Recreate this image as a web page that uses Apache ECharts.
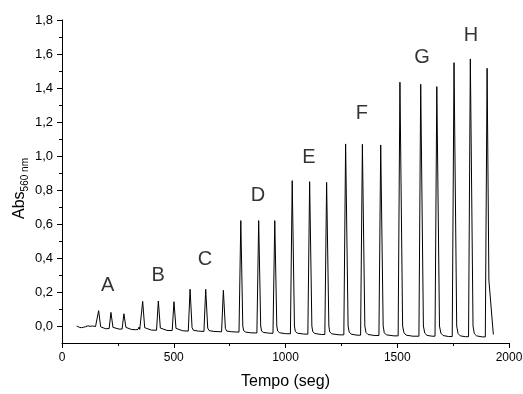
<!DOCTYPE html>
<html>
<head>
<meta charset="utf-8">
<script src="https://cdn.jsdelivr.net/npm/echarts@6/dist/echarts.min.js"></script>
<style>
  html, body { margin: 0; padding: 0; background: #fff; }
  #chart { width: 523px; height: 394px; }
</style>
</head>
<body>
<div id="chart"></div>
<script>
// Absorbance at 560 nm versus time: [tempo (s), Abs] points for each injection group.
const baseline = [[66, 0.0], [70, -0.006], [74, 0.003], [78, -0.008], [83, 0.0], [88, -0.01], [92, -0.002],
  [97, -0.007], [102, 0.004], [106, -0.004], [111, -0.003], [116, 0.001], [121, -0.006], [126, -0.002],
  [131, -0.005], [137, 0.0], [143, -0.005], [150, -0.003]];
const groupA = [[156, -0.004], [164, 0.09], [173, -0.005], [180, -0.012], [195, -0.016], [211, -0.015],
  [219, 0.08], [228, -0.008], [235, -0.015], [255, -0.018], [269, -0.018], [277, 0.072], [286, -0.008],
  [293, -0.016], [310, -0.02], [330, -0.022], [340, -0.02], [345, -0.006], [348, -0.02], [353, -0.022]];
const groupB = [[361, 0.145], [370, -0.01], [377, -0.02], [400, -0.024], [423, -0.025], [431, 0.147],
  [440, -0.012], [447, -0.022], [470, -0.026], [493, -0.027], [501, 0.143], [510, -0.014], [517, -0.025],
  [540, -0.028], [565, -0.03]];
const groupC = [[573, 0.216], [582, -0.01], [588, -0.025], [610, -0.03], [635, -0.032], [643, 0.216],
  [652, -0.012], [658, -0.027], [680, -0.032], [714, -0.034], [722, 0.21], [731, -0.014], [737, -0.03],
  [760, -0.034], [792, -0.036]];
const groupD = [[800, 0.62], [809, 0.0], [813, -0.028], [822, -0.036], [845, -0.04], [872, -0.041],
  [880, 0.62], [889, 0.0], [893, -0.03], [902, -0.038], [925, -0.042], [944, -0.043], [952, 0.62],
  [961, 0.0], [965, -0.03], [974, -0.04], [1000, -0.045], [1022, -0.046]];
const groupE = [[1030, 0.855], [1040, 0.0], [1044, -0.032], [1053, -0.042], [1080, -0.047], [1100, -0.048],
  [1108, 0.849], [1118, 0.0], [1122, -0.034], [1131, -0.044], [1160, -0.05], [1176, -0.05], [1184, 0.845],
  [1194, 0.0], [1198, -0.035], [1207, -0.046], [1240, -0.052], [1261, -0.052]];
const groupF = [[1269, 1.071], [1280, 0.0], [1285, -0.036], [1294, -0.048], [1320, -0.054], [1336, -0.054],
  [1344, 1.069], [1355, 0.0], [1360, -0.038], [1369, -0.05], [1400, -0.056], [1418, -0.056], [1426, 1.065],
  [1437, 0.0], [1442, -0.04], [1451, -0.052], [1485, -0.058], [1504, -0.058]];
const groupG = [[1512, 1.434], [1524, 0.0], [1530, -0.04], [1540, -0.054], [1570, -0.06], [1597, -0.06],
  [1605, 1.422], [1617, 0.0], [1623, -0.042], [1633, -0.055], [1655, -0.06], [1669, -0.06], [1677, 1.408],
  [1689, 0.0], [1695, -0.042], [1705, -0.056], [1730, -0.062], [1746, -0.062]];
const groupH = [[1754, 1.549], [1766, 0.0], [1772, -0.044], [1782, -0.058], [1805, -0.063], [1819, -0.063],
  [1827, 1.571], [1839, 0.0], [1845, -0.045], [1855, -0.058], [1880, -0.064], [1894, -0.064], [1902, 1.516],
  [1910, 0.27], [1930, -0.05]];

// Group letters and where they sit (tempo, Abs)
const groupLetters = ['A', 'B', 'C', 'D', 'E', 'F', 'G', 'H'];
const letterAnchors = [[204, 0.24], [430, 0.30], [640, 0.39], [877, 0.77], [1105, 0.99], [1342, 1.25], [1611, 1.58], [1830, 1.71]];

// Axis ticks
const xTickValues = [0, 500, 1000, 1500, 2000];
const yMajorTicks = [0.0, 0.2, 0.4, 0.6, 0.8, 1.0, 1.2, 1.4, 1.6, 1.8];
const yMinorTicks = [0.1, 0.3, 0.5, 0.7, 0.9, 1.1, 1.3, 1.5, 1.7];

const trace = [].concat(baseline, groupA, groupB, groupC, groupD, groupE, groupF, groupG, groupH);
const letterData = letterAnchors.map((p, i) => [p[0], p[1], groupLetters[i]]);

const FONT = 'Liberation Sans, Arial, sans-serif';
const chart = echarts.init(document.getElementById('chart'), null, { renderer: 'canvas' });

chart.setOption({
  animation: false,
  backgroundColor: '#fff',
  grid: { left: 62, right: 14, top: 20, bottom: 51, containLabel: false, outerBoundsMode: 'none' },
  xAxis: {
    type: 'value',
    min: 0, max: 2000, interval: 500,
    name: 'Tempo (seg)',
    nameLocation: 'middle',
    nameGap: 31,
    nameMoveOverlap: false,
    nameTextStyle: { fontFamily: FONT, fontSize: 16, color: '#000' },
    axisLine: { show: true, onZero: false, lineStyle: { color: '#000', width: 1 } },
    axisTick: { show: true, length: 5, lineStyle: { color: '#000' } },
    minorTick: { show: true, splitNumber: 2, length: 3, lineStyle: { color: '#000' } },
    axisLabel: {
      fontFamily: FONT, fontSize: 12, color: '#000', margin: 9,
      customValues: xTickValues,
      formatter: v => String(v)
    },
    splitLine: { show: false }
  },
  yAxis: [{
    type: 'value',
    min: -0.1, max: 1.8,
    name: '{a|Abs}{b|560 nm}',
    nameLocation: 'middle',
    nameGap: 32,
    nameMoveOverlap: false,
    nameRotate: 90,
    nameTextStyle: {
      fontFamily: FONT, color: '#000',
      padding: [0, 14, 0, 0],
      rich: {
        a: { fontFamily: FONT, fontSize: 16, color: '#000', lineHeight: 20 },
        b: { fontFamily: FONT, fontSize: 10, color: '#000', verticalAlign: 'bottom', lineHeight: 20, padding: [6, 0, 0, 0] }
      }
    },
    axisLine: { show: true, onZero: false, lineStyle: { color: '#000', width: 1 } },
    axisTick: { show: true, length: 5, customValues: yMajorTicks, lineStyle: { color: '#000' } },
    axisLabel: {
      fontFamily: FONT, fontSize: 13, color: '#000', margin: 9,
      customValues: yMajorTicks,
      formatter: v => v.toFixed(1).replace('.', ',')
    },
    splitLine: { show: false }
  }, {
    // shorter unlabeled ticks halfway between labelled ones
    type: 'value',
    min: -0.1, max: 1.8,
    position: 'left',
    axisLine: { show: false },
    axisTick: { show: true, length: 3, customValues: yMinorTicks, lineStyle: { color: '#000' } },
    axisLabel: { show: false },
    splitLine: { show: false }
  }],
  series: [{
    type: 'line',
    data: trace,
    showSymbol: false,
    symbol: 'none',
    lineStyle: { color: '#000', width: 1 },
    z: 3
  }, {
    type: 'scatter',
    data: letterData,
    symbolSize: 1,
    itemStyle: { color: 'rgba(0,0,0,0)' },
    label: {
      show: true,
      position: 'inside',
      formatter: p => p.data[2],
      fontFamily: FONT, fontSize: 20, color: '#000'
    },
    z: 4
  }]
});
</script>
</body>
</html>
